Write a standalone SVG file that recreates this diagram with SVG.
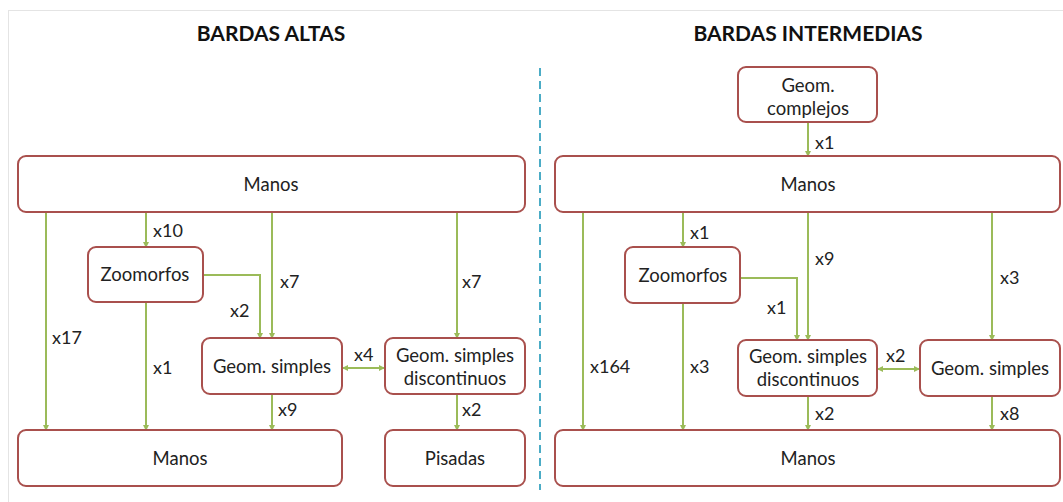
<svg xmlns="http://www.w3.org/2000/svg" width="1063" height="502" viewBox="0 0 1063 502">
<style>
.box{fill:#fff;stroke:#A9504D;stroke-width:2}
.t{font-family:Lato,"Open Sans",sans-serif;font-size:18.5px;fill:#222;text-anchor:middle}
.l{font-family:Lato,"Open Sans",sans-serif;font-size:18px;fill:#222}
.title{font-family:Lato,"Open Sans",sans-serif;font-size:21px;font-weight:bold;fill:#111;text-anchor:middle}
.c{fill:none;stroke:#9BBB59;stroke-width:2}
</style>
<defs>
<marker id="ah" markerWidth="6" markerHeight="6" refX="5" refY="3" orient="auto" markerUnits="userSpaceOnUse">
<path d="M0,0 L6,3 L0,6 z" fill="#9BBB59"/>
</marker>
<marker id="as" markerWidth="6" markerHeight="6" refX="1" refY="3" orient="auto" markerUnits="userSpaceOnUse">
<path d="M6,0 L0,3 L6,6 z" fill="#9BBB59"/>
</marker>
</defs>
<rect x="8.5" y="10.5" width="1060" height="500" fill="#fff" stroke="#e4e4e4" stroke-width="1"/>
<text class="title" x="271" y="41">BARDAS ALTAS</text>
<text class="title" x="808" y="41">BARDAS INTERMEDIAS</text>
<line x1="540" y1="68" x2="540" y2="490" stroke="#4BACC6" stroke-width="2" stroke-dasharray="8,5"/>

<g id="connectors">
<path class="c" d="M46,212 V430" marker-end="url(#ah)"/>
<path class="c" d="M146,212 V247" marker-end="url(#ah)"/>
<path class="c" d="M272,212 V338" marker-end="url(#ah)"/>
<path class="c" d="M457,212 V338" marker-end="url(#ah)"/>
<path class="c" d="M203,275 H260 V338" marker-end="url(#ah)"/>
<path class="c" d="M146,302 V430" marker-end="url(#ah)"/>
<path class="c" d="M272,394 V430" marker-end="url(#ah)"/>
<path class="c" d="M457,394 V430" marker-end="url(#ah)"/>
<path class="c" d="M343,368 H384" marker-start="url(#as)" marker-end="url(#ah)"/>
<path class="c" d="M808,122 V156" marker-end="url(#ah)"/>
<path class="c" d="M583,212 V430" marker-end="url(#ah)"/>
<path class="c" d="M683,212 V247" marker-end="url(#ah)"/>
<path class="c" d="M808,212 V340" marker-end="url(#ah)"/>
<path class="c" d="M992,212 V340" marker-end="url(#ah)"/>
<path class="c" d="M740,278 H797 V340" marker-end="url(#ah)"/>
<path class="c" d="M683,303 V430" marker-end="url(#ah)"/>
<path class="c" d="M808,396 V430" marker-end="url(#ah)"/>
<path class="c" d="M992,396 V430" marker-end="url(#ah)"/>
<path class="c" d="M878,369 H919" marker-start="url(#as)" marker-end="url(#ah)"/>
</g>

<g id="labels">
<text class="l" x="153" y="237">x10</text>
<text class="l" x="52" y="344">x17</text>
<text class="l" x="280" y="288">x7</text>
<text class="l" x="462" y="288">x7</text>
<text class="l" x="230" y="317">x2</text>
<text class="l" x="153" y="374">x1</text>
<text class="l" x="278" y="416">x9</text>
<text class="l" x="462" y="416">x2</text>
<text class="l" x="354" y="361">x4</text>
<text class="l" x="815" y="149">x1</text>
<text class="l" x="690" y="239">x1</text>
<text class="l" x="815" y="265">x9</text>
<text class="l" x="1000" y="284">x3</text>
<text class="l" x="767" y="314">x1</text>
<text class="l" x="590" y="373">x164</text>
<text class="l" x="690" y="373">x3</text>
<text class="l" x="886" y="362">x2</text>
<text class="l" x="815" y="420">x2</text>
<text class="l" x="1000" y="420">x8</text>
</g>

<g id="a_manos_top"><rect class="box" x="18" y="156" width="507" height="56" rx="8"/><text class="t" x="271" y="191">Manos</text></g>
<g id="a_zoomorfos"><rect class="box" x="88" y="247" width="115" height="55" rx="8"/><text class="t" x="145" y="281">Zoomorfos</text></g>
<g id="a_geom_simples"><rect class="box" x="202" y="338" width="140" height="56" rx="8"/><text class="t" x="272" y="373">Geom. simples</text></g>
<g id="a_geom_disc"><rect class="box" x="385" y="338" width="140" height="56" rx="8"/><text class="t" x="455" y="362">Geom. simples</text><text class="t" x="455" y="385">discontinuos</text></g>
<g id="a_manos_bottom"><rect class="box" x="18" y="430" width="324" height="56" rx="8"/><text class="t" x="180" y="465">Manos</text></g>
<g id="a_pisadas"><rect class="box" x="385" y="430" width="140" height="56" rx="8"/><text class="t" x="455" y="465">Pisadas</text></g>

<g id="b_geom_complejos"><rect class="box" x="738" y="67" width="139" height="55" rx="8"/><text class="t" x="808" y="92">Geom.</text><text class="t" x="808" y="115">complejos</text></g>
<g id="b_manos_top"><rect class="box" x="555" y="156" width="505" height="56" rx="8"/><text class="t" x="808" y="191">Manos</text></g>
<g id="b_zoomorfos"><rect class="box" x="625" y="247" width="115" height="56" rx="8"/><text class="t" x="683" y="282">Zoomorfos</text></g>
<g id="b_geom_disc"><rect class="box" x="738" y="340" width="139" height="56" rx="8"/><text class="t" x="808" y="363">Geom. simples</text><text class="t" x="808" y="386">discontinuos</text></g>
<g id="b_geom_simples"><rect class="box" x="920" y="340" width="140" height="56" rx="8"/><text class="t" x="990" y="375">Geom. simples</text></g>
<g id="b_manos_bottom"><rect class="box" x="555" y="430" width="505" height="56" rx="8"/><text class="t" x="808" y="465">Manos</text></g>
</svg>
